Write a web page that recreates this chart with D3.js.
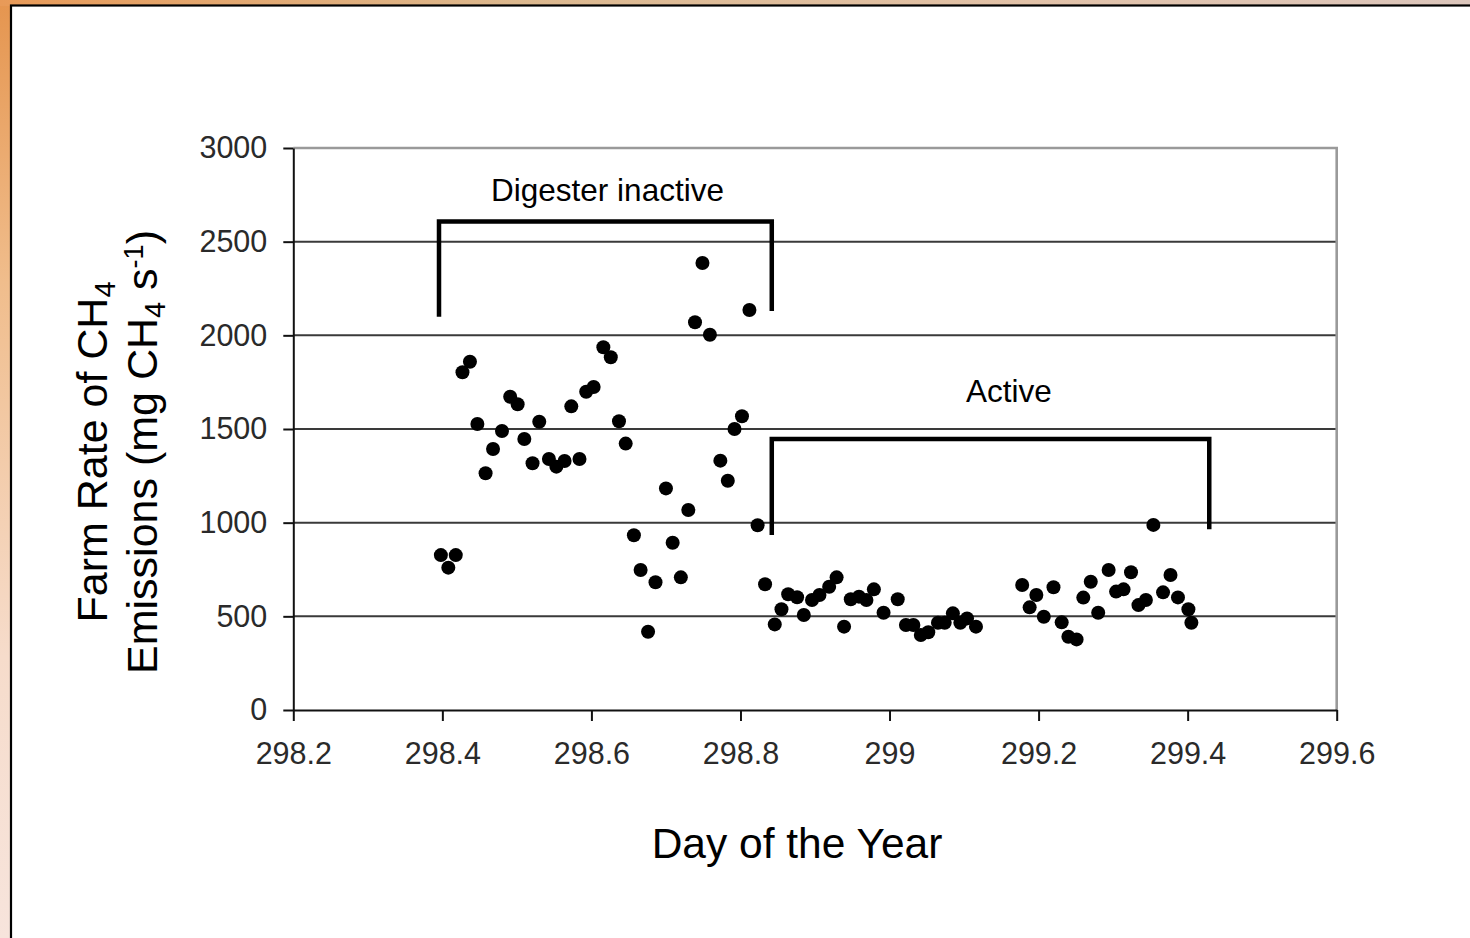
<!DOCTYPE html>
<html>
<head>
<meta charset="utf-8">
<script src="https://cdn.jsdelivr.net/npm/d3@7"></script>
<style>
  html, body { margin: 0; padding: 0; background: #f3dccb; overflow: hidden; }
  svg { display: block; font-family: "Liberation Sans", Arial, sans-serif; }
</style>
</head>
<body>
<svg id="chart"></svg>
<script>
// measured day of year / CH4 emission rate (mg CH4 s-1)
let days = [
  298.398, 298.408, 298.418, 298.427, 298.437, 298.447, 298.458, 298.468, 298.480, 298.491,
  298.501, 298.510, 298.521, 298.530, 298.543, 298.553, 298.564, 298.573, 298.584, 298.593,
  298.603, 298.616, 298.626, 298.637, 298.646, 298.657, 298.666, 298.676, 298.686, 298.700,
  298.709, 298.720, 298.730, 298.739, 298.749, 298.759, 298.773, 298.783, 298.792, 298.802,
  298.812, 298.823, 298.833, 298.846, 298.855, 298.864, 298.876, 298.885, 298.896, 298.906,
  298.919, 298.929, 298.939, 298.948, 298.959, 298.969, 298.979, 298.992, 299.011, 299.022,
  299.032, 299.042, 299.052, 299.065, 299.074, 299.085, 299.095, 299.104, 299.116,
  299.178, 299.188, 299.197, 299.207, 299.220, 299.231, 299.240, 299.251, 299.260, 299.270,
  299.280, 299.294, 299.304, 299.314, 299.324, 299.334, 299.344, 299.354, 299.367, 299.377,
  299.387, 299.401, 299.405
];
let rates = [
  827, 760, 827, 1803, 1859, 1527, 1264, 1393, 1489, 1672,
  1632, 1447, 1317, 1539, 1340, 1299, 1329, 1621, 1340, 1699,
  1724, 1936, 1883, 1541, 1422, 933, 747, 418, 682, 1183,
  893, 708, 1068, 2070, 2386, 2003, 1331, 1224, 1500, 1568,
  2135, 986, 671, 457, 538, 618, 602, 507, 587, 614,
  658, 708, 445, 591, 605, 587, 644, 519, 591, 454,
  454, 400, 415, 466, 466, 516, 466, 489, 445,
  667, 548, 614, 498, 655, 468, 391, 377, 600, 685,
  519, 747, 632, 644, 735, 560, 587, 988, 628, 721,
  601, 538, 466
];

let xTicks = [298.2, 298.4, 298.6, 298.8, 299, 299.2, 299.4, 299.6];
let yTicks = [0, 500, 1000, 1500, 2000, 2500, 3000];

// bracket annotations: [left day, right day], [top value, left end value, right end value]
let bracketLabels = ["Digester inactive", "Active"];
let bracketDays = [[298.3955, 298.842], [298.842, 299.429]];
let bracketVals = [[2607, 2099, 2130], [1447, 934, 965]];

let W = 1470, H = 938;
let margin = {top: 148, right: W - 1336.7, bottom: H - 710, left: 293.3};

let svg = d3.select("#chart").attr("width", W).attr("height", H);

// textured slide background round the white panel
let defs = svg.append("defs");
let gTop = defs.append("linearGradient").attr("id", "gTop");
gTop.append("stop").attr("offset", "0%").attr("stop-color", "#e89a58");
gTop.append("stop").attr("offset", "35%").attr("stop-color", "#dcb88e");
gTop.append("stop").attr("offset", "70%").attr("stop-color", "#e2c2a8");
gTop.append("stop").attr("offset", "100%").attr("stop-color", "#dcc6bc");
let gLeft = defs.append("linearGradient").attr("id", "gLeft")
  .attr("x1", 0).attr("y1", 0).attr("x2", 0).attr("y2", 1);
gLeft.append("stop").attr("offset", "0%").attr("stop-color", "#e5954f");
gLeft.append("stop").attr("offset", "30%").attr("stop-color", "#f0bd8c");
gLeft.append("stop").attr("offset", "70%").attr("stop-color", "#f6dccb");
gLeft.append("stop").attr("offset", "100%").attr("stop-color", "#f7e4dc");

svg.append("rect").attr("width", W).attr("height", H).attr("fill", "url(#gLeft)");
svg.append("rect").attr("width", W).attr("height", 6).attr("fill", "url(#gTop)");
svg.append("rect")
  .attr("x", 11).attr("y", 5.5)
  .attr("width", W).attr("height", H)
  .attr("fill", "#fff").attr("stroke", "#000").attr("stroke-width", 2.2);

let xScale = d3.scaleLinear()
    .domain([298.2, 299.6])
    .range([margin.left, W - margin.right]);
let yScale = d3.scaleLinear()
    .domain([0, 3000])
    .range([H - margin.bottom, margin.top]);

// horizontal gridlines
svg.append("g")
  .selectAll("line")
  .data(yTicks.filter(function(d) { return d > 0 && d < 3000; }))
  .enter().append("line")
    .attr("x1", xScale.range()[0]).attr("x2", xScale.range()[1])
    .attr("y1", function(d) { return yScale(d); })
    .attr("y2", function(d) { return yScale(d); })
    .attr("stroke", "#3a3a3a")
    .attr("stroke-width", 2);

// grey top and right frame
svg.append("path")
  .attr("d", "M" + xScale.range()[0] + "," + yScale(3000) +
             "H" + xScale.range()[1] + "V" + yScale(0))
  .attr("fill", "none")
  .attr("stroke", "#9a9a9a")
  .attr("stroke-width", 2.6);

let xAxis = svg.append("g")
    .attr("transform", "translate(0," + yScale(0) + ")")
    .call(d3.axisBottom(xScale)
      .tickValues(xTicks)
      .tickSize(11)
      .tickSizeOuter(0)
      .tickPadding(21)
      .tickFormat(function(d) { return String(+d.toFixed(1)); }));

let yAxis = svg.append("g")
    .attr("transform", "translate(" + xScale(298.2) + ",0)")
    .call(d3.axisLeft(yScale)
      .tickValues(yTicks)
      .tickSize(10)
      .tickSizeOuter(0)
      .tickPadding(16)
      .tickFormat(d3.format("d")));

[xAxis, yAxis].forEach(function(ax) {
  ax.select(".domain").attr("stroke", "#111").attr("stroke-width", 2);
  ax.selectAll(".tick line").attr("stroke", "#111").attr("stroke-width", 2);
  ax.selectAll(".tick text")
    .attr("fill", "#2a2a2a")
    .style("font-family", "'Liberation Sans', Arial, sans-serif")
    .style("font-size", "30.5px");
});

// bracket shapes
let bracket = svg.append("g");
bracketDays.forEach(function(dd, i) {
  let v = bracketVals[i];
  bracket.append("path")
    .attr("d", "M" + xScale(dd[0]) + "," + yScale(v[1]) +
               "V" + yScale(v[0]) +
               "H" + xScale(dd[1]) +
               "V" + yScale(v[2]))
    .attr("fill", "none")
    .attr("stroke", "#000")
    .attr("stroke-width", 4.5)
    .attr("stroke-linejoin", "miter");
});

svg.append("text")
  .attr("x", 607.5).attr("y", 201)
  .style("text-anchor", "middle")
  .style("font-size", "31.5px")
  .text(bracketLabels[0]);
svg.append("text")
  .attr("x", 1009).attr("y", 402)
  .style("text-anchor", "middle")
  .style("font-size", "31.5px")
  .text(bracketLabels[1]);

// points
svg.append("g")
  .selectAll(".dot")
  .data(days)
  .enter().append("circle")
    .attr("class", "dot")
    .attr("cx", function(d) { return xScale(d); })
    .attr("cy", function(d, i) { return yScale(rates[i]); })
    .attr("r", 7)
    .attr("fill", "#000");

// axis titles
svg.append("text")
  .attr("x", 797).attr("y", 858)
  .style("text-anchor", "middle")
  .style("font-size", "42.5px")
  .text("Day of the Year");

let yTitle = svg.append("text")
  .attr("transform", "translate(107,452) rotate(-90)")
  .style("text-anchor", "middle")
  .style("font-size", "43px");

let line1 = yTitle.append("tspan").attr("x", 0).attr("y", 0);
line1.append("tspan").text("Farm Rate of CH");
line1.append("tspan").attr("dy", 8).style("font-size", "29px").text("4");

let line2 = yTitle.append("tspan").attr("x", 0).attr("y", 50);
line2.append("tspan").text("Emissions (mg CH");
line2.append("tspan").attr("dy", 8).style("font-size", "29px").text("4");
line2.append("tspan").attr("dy", -8).text(" s");
line2.append("tspan").attr("dy", -14).style("font-size", "27px").text("-1");
line2.append("tspan").attr("dy", 14).text(")");
</script>
</body>
</html>
